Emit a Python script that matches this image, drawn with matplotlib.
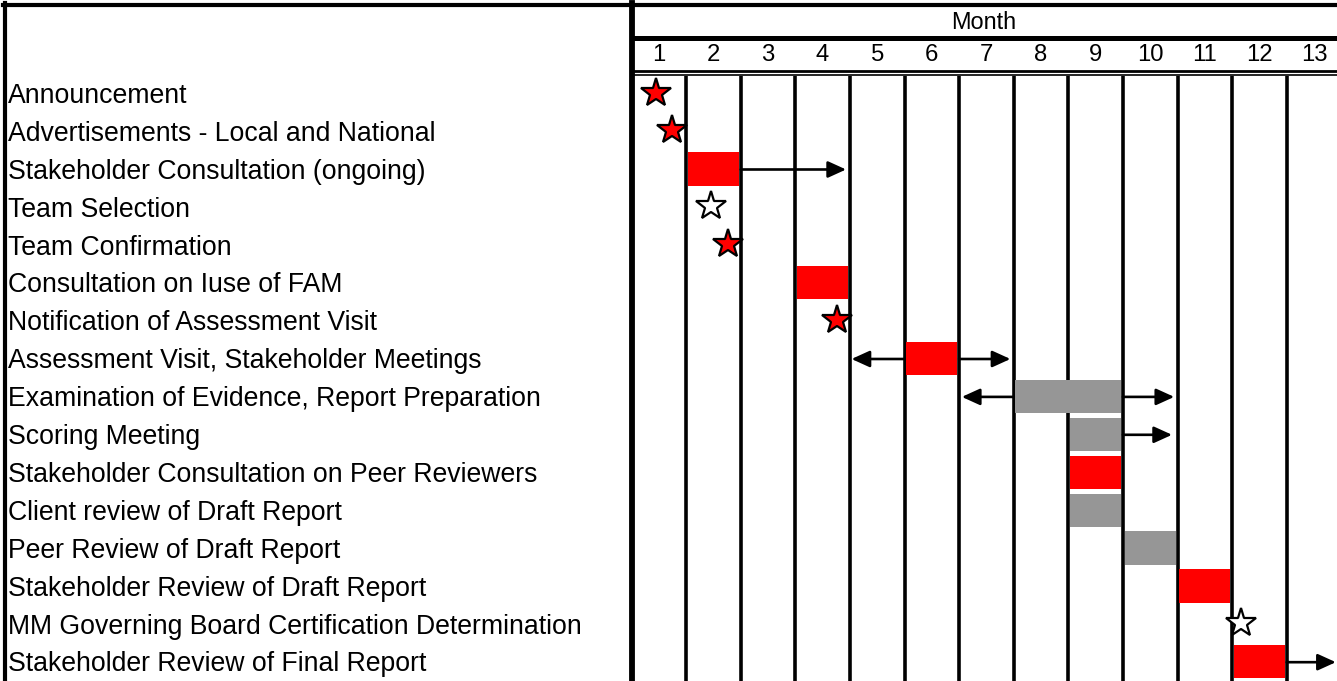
import matplotlib
matplotlib.use('Agg')
import matplotlib.pyplot as plt
from matplotlib.lines import Line2D
from matplotlib.patches import Rectangle
import matplotlib.transforms as mtransforms

plt.rcParams['font.family'] = 'Liberation Sans'

# Data
tasks = ['Announcement',
         'Advertisements - Local and National',
         'Stakeholder Consultation (ongoing)',
         'Team Selection',
         'Team Confirmation',
         'Consultation on Iuse of FAM',
         'Notification of Assessment Visit',
         'Assessment Visit, Stakeholder Meetings',
         'Examination of Evidence, Report Preparation',
         'Scoring Meeting',
         'Stakeholder Consultation on Peer Reviewers',
         'Client review of Draft Report',
         'Peer Review of Draft Report',
         'Stakeholder Review of Draft Report',
         'MM Governing Board Certification Determination',
         'Stakeholder Review of Final Report']
months = [str(m) for m in range(1, 14)]

# bars: task row, start month, end month, kind
bar_rows = [2, 5, 7, 8, 9, 10, 11, 12, 13, 15]
bar_start = [1, 3, 5, 7, 8, 8, 8, 9, 10, 11]
bar_end = [2, 4, 6, 9, 9, 9, 9, 10, 11, 12]
bar_kind = ['key', 'key', 'key', 'work', 'work', 'key', 'work', 'work', 'key', 'key']

# milestones (stars)
star_rows = [0, 1, 3, 4, 6, 14]
star_month = [0.45, 0.75, 1.46, 1.76, 3.76, 11.16]
star_filled = [True, True, False, True, True, False]

# arrows: task row, from, to
arrow_rows = [2, 7, 7, 8, 8, 9, 15]
arrow_from = [2.0, 5.0, 6.0, 7.0, 9.0, 9.0, 12.0]
arrow_to = [3.93, 4.03, 6.94, 6.05, 9.94, 9.9, 12.9]

kind_colors = {'key': '#ff0000', 'work': '#969696'}

# Layout in pixels
W, H = 1337, 681
x0, xw = 631.5, 54.6          # month grid start and column width
y_body, y_end = 75.5, 681.9   # body top / bottom
y_head = 6.7

fig = plt.figure(figsize=(W / 100, H / 100), dpi=100)
fig.patch.set_facecolor('white')


def fx(px):
    return px / W


def fy(py):
    return 1 - py / H


ax = fig.add_axes([fx(x0), fy(y_end), fx(len(months) * xw), fy(y_body) - fy(y_end)])
ax.set_xlim(0, len(months))
ax.set_ylim(len(tasks), 0)
ax.axis('off')

hax = fig.add_axes([fx(x0), fy(72), fx(len(months) * xw), fy(y_head) - fy(72)])
hax.set_xlim(0, len(months))
hax.set_ylim(2, 0)
hax.axis('off')

# month grid lines
ax.vlines(range(1, len(months)), 0, len(tasks), color='black', lw=2.6, zorder=1)

# bars
for r, s, e, k in zip(bar_rows, bar_start, bar_end, bar_kind):
    ax.add_patch(Rectangle((s + 0.03, r + 0.03), e - s - 0.06, 0.88,
                           facecolor=kind_colors[k], edgecolor='none', zorder=2))

# arrows
for r, a, b in zip(arrow_rows, arrow_from, arrow_to):
    ax.annotate('', xy=(b, r + 0.48), xytext=(a, r + 0.48),
                arrowprops=dict(arrowstyle='-|>,head_length=0.55,head_width=0.25',
                                mutation_scale=20, lw=1.9, color='black',
                                shrinkA=0, shrinkB=0), zorder=3)

# stars
for r, m, f in zip(star_rows, star_month, star_filled):
    ax.plot(m, r + 0.45, marker='*', ms=22, mfc='#ff0000' if f else 'white',
            mec='black', mew=1.6, zorder=4, clip_on=False)

# task labels
trans = mtransforms.blended_transform_factory(fig.transFigure, ax.transData)
for i, t in enumerate(tasks):
    ax.text(fx(8), i + 0.54, t, transform=trans, fontsize=19.2,
            va='center', ha='left', clip_on=False)

# header
hax.text(fx(984 - x0) / fx(len(months) * xw) * len(months), 0.48, 'Month',
         fontsize=16.9, ha='center', va='center')
for i, m in enumerate(months):
    hax.text(i + 0.5, 1.48, m, fontsize=17.2, ha='center', va='center')

# frame lines
def hline(py, xa, xb, lw):
    fig.add_artist(Line2D([fx(xa), fx(xb)], [fy(py), fy(py)], color='black', lw=lw))


def vline(px, ya, yb, lw):
    fig.add_artist(Line2D([fx(px), fx(px)], [fy(ya), fy(yb)], color='black', lw=lw))


hline(4.7, 2.5, W, 3.0)
vline(4.7, 2.5, H, 3.0)
vline(632.0, 2.5, H, 4.2)
hline(38.0, x0, W, 3.6)
hline(71.0, x0, W, 2.0)
hline(75.0, x0, W, 1.2)

plt.savefig('out.png', dpi=100)
